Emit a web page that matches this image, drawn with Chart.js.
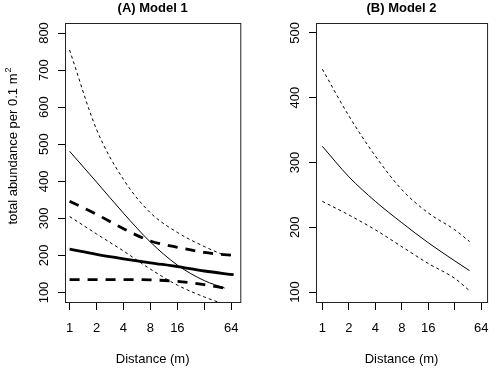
<!DOCTYPE html>
<html>
<head>
<meta charset="utf-8">
<script src="https://cdn.jsdelivr.net/npm/chart.js@4"></script>
<style>
  body { margin: 0; background: #fff; }
  .panel { position: absolute; top: 0; width: 250px; height: 369px; }
</style>
</head>
<body>
<div class="panel" style="left:0"><canvas id="chartA" width="250" height="369"></canvas></div>
<div class="panel" style="left:250px"><canvas id="chartB" width="250" height="369"></canvas></div>
<script>
// x ticks (distance, log2 axis)
const distTicks = [1, 2, 4, 8, 16, 32, 64];
const distLabels = ["1", "2", "4", "8", "16", "", "64"];

// (A) Model 1
const distShortA = [1, 2, 4, 8, 16, 32, 54];
const distLongA = [1, 2, 4, 8, 16, 32, 68];
const fitA = [217, 203, 191, 180, 170, 158, 148];
const upperA = [346, 311, 272, 239, 222, 208, 200];
const lowerA = [135, 135, 135, 134, 130, 121, 112];
const fitThinA = [481, 398, 314, 236, 174, 132, 112];
const upperThinA = [754, 540, 405, 315, 262, 224, 200];
const lowerThinA = [305, 258, 212, 163, 120, 88, 68];
const yTicksA = [100, 200, 300, 400, 500, 600, 700, 800];
const yTitleA = "total abundance per 0.1 m";
const yTitleSupA = "2";

// (B) Model 2
const distB = [1, 2, 4, 8, 16, 32, 47];
const fitB = [325, 278, 240, 207, 176, 148, 133];
const upperB = [444, 372, 310, 258, 222, 196, 178];
const lowerB = [240, 219, 196, 170, 144, 121, 102];
const yTicksB = [100, 200, 300, 400, 500];

const fontFamily = "'Liberation Sans', Arial, Helvetica, sans-serif";
Chart.defaults.font.family = fontFamily;
Chart.defaults.color = "#000";

function serie(xs, ys, width, dash) {
    return {
        data: xs.map((x, i) => ({ x: x, y: ys[i] })),
        borderColor: "#000",
        borderWidth: width,
        borderDash: dash,
        borderCapStyle: "butt",
        pointRadius: 0,
        cubicInterpolationMode: "monotone",
        fill: false
    };
}

const boxPlugin = {
    id: "box",
    afterDatasetsDraw(chart) {
        const a = chart.chartArea;
        const ctx = chart.ctx;
        ctx.save();
        ctx.strokeStyle = "#222";
        ctx.lineWidth = 1;
        ctx.strokeRect(a.left + 0.5, a.top + 0.5, a.right - a.left, a.bottom - a.top);
        ctx.restore();
    }
};

// y axis title with a superscript (rotated, like R's ylab)
const yTitlePlugin = {
    id: "yTitle",
    afterDraw(chart, args, opts) {
        if (!opts.text) return;
        const ctx = chart.ctx;
        ctx.save();
        ctx.translate(0, opts.center);
        ctx.rotate(-Math.PI / 2);
        ctx.fillStyle = "#000";
        ctx.textBaseline = "alphabetic";
        ctx.font = "13px " + fontFamily;
        const w = ctx.measureText(opts.text).width;
        ctx.font = "9px " + fontFamily;
        const ws = ctx.measureText(opts.sup).width;
        const start = -(w + ws + 1) / 2;
        ctx.font = "13px " + fontFamily;
        ctx.fillText(opts.text, start, opts.baseline);
        ctx.font = "9px " + fontFamily;
        ctx.fillText(opts.sup, start + w + 1, opts.baseline - 6);
        ctx.restore();
    }
};

function drawPanel(id, title, datasets, xMin, xMax, yMin, yMax, yTicks, yTitle, yTitleSup, leftWidth) {
    new Chart(document.getElementById(id), {
        type: "line",
        data: { datasets: datasets },
        plugins: [boxPlugin, yTitlePlugin],
        options: {
            responsive: false,
            animation: false,
            layout: { padding: { left: 0, right: 4, top: 0, bottom: 0 } },
            plugins: {
                legend: { display: false },
                tooltip: { enabled: false },
                title: {
                    display: true,
                    text: title,
                    fullSize: false,
                    font: { size: 13, weight: "bold" },
                    padding: { top: 0.6, bottom: 6.8 }
                },
                yTitle: { text: yTitle, sup: yTitleSup, center: 146, baseline: 17 }
            },
            scales: {
                x: {
                    type: "logarithmic",
                    min: xMin,
                    max: xMax,
                    afterBuildTicks: axis => { axis.ticks = distTicks.map(v => ({ value: v })); },
                    afterFit: axis => { axis.height = 67; },
                    border: { display: false },
                    grid: { drawOnChartArea: false, color: "#000", tickLength: 8 },
                    ticks: {
                        autoSkip: false,
                        maxRotation: 0,
                        padding: 11,
                        font: { size: 13 },
                        callback: (v, i) => distLabels[i]
                    },
                    title: {
                        display: true,
                        text: "Distance (m)",
                        font: { size: 13 },
                        padding: { top: 0, bottom: 2 }
                    }
                },
                y: {
                    min: yMin,
                    max: yMax,
                    afterBuildTicks: axis => { axis.ticks = yTicks.map(v => ({ value: v })); },
                    afterFit: axis => { axis.width = leftWidth; },
                    border: { display: false },
                    grid: { drawOnChartArea: false, color: "#000", tickLength: 7 },
                    ticks: {
                        minRotation: 90,
                        maxRotation: 90,
                        crossAlign: "center",
                        padding: 3,
                        font: { size: 13 },
                        callback: v => String(v)
                    }
                }
            }
        }
    });
}

drawPanel("chartA", "(A) Model 1", [
    serie(distShortA, upperThinA, 1, [3, 3]),
    serie(distShortA, fitThinA, 1, []),
    serie(distShortA, lowerThinA, 1, [3, 3]),
    serie(distLongA, upperA, 2.8, [10, 8]),
    serie(distLongA, fitA, 2.8, []),
    serie(distShortA, lowerA, 2.8, [10, 8])
], Math.pow(2, -0.17), Math.pow(2, 6.335), 74.4, 827, yTicksA, yTitleA, yTitleSupA, 65);

drawPanel("chartB", "(B) Model 2", [
    serie(distB, upperB, 1, [3, 3]),
    serie(distB, fitB, 1, []),
    serie(distB, lowerB, 1, [3, 3])
], Math.pow(2, -0.24), Math.pow(2, 6.216), 84.6, 515.4, yTicksB, "", "", 66);
</script>
</body>
</html>
